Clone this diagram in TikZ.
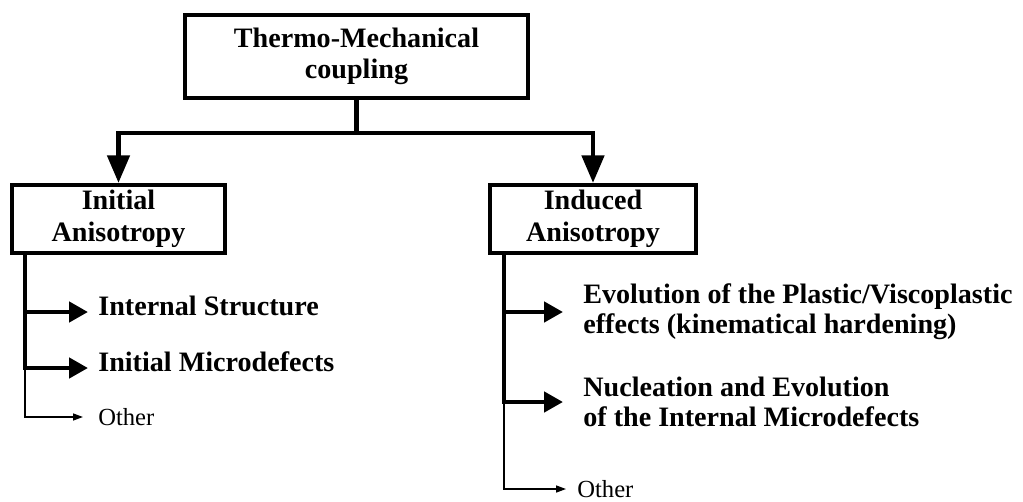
\documentclass[tikz,border=0pt]{standalone}
\usepackage{fontspec}
\setmainfont{Liberation Serif}
\usetikzlibrary{arrows.meta}

\tikzset{
  box/.style={draw, line width=2.4pt, align=center, inner sep=0pt, font=\fontsize{16}{18}\selectfont\bfseries},
  item/.style={anchor=west, align=left, inner ysep=0pt, font=\fontsize{16}{17}\selectfont\bfseries},
  other/.style={anchor=west, inner ysep=0pt, font=\fontsize{14}{16}\selectfont},
  trunk/.style={line width=2.6pt},
  twig/.style={line width=0.8pt},
  downtip/.style={{Triangle[length=0.55cm,width=0.44cm]}-{Triangle[length=0.55cm,width=0.44cm]}},
  bigtip/.style={-{Triangle[length=0.38cm,width=0.4cm]}},
  smalltip/.style={-{Triangle[length=0.2cm,width=0.14cm]}},
}

\begin{document}
\begin{tikzpicture}[x=0.02cm, y=-0.02cm]
\useasboundingbox (0,0) rectangle (1023,501);
\node[box, minimum width=6.86cm, minimum height=1.66cm] (title) at (356.5,56.5) {Thermo-Mechanical\\coupling};
\node[box, minimum width=4.26cm, minimum height=1.36cm] (ini) at (118.5,219) {Initial\\Anisotropy};
\node[box, minimum width=4.12cm, minimum height=1.36cm] (ind) at (593,219) {Induced\\Anisotropy};
\coordinate (bar) at (0,133);
\coordinate (spL) at ([xshift=0.3cm]ini.south west);
\coordinate (spR) at ([xshift=0.32cm]ind.south west);

\node[item, inner xsep=0.2cm, text height=0.45em, text depth=0pt] (m1) at (88,312) {Internal Structure};
\node[item, inner xsep=0.2cm, text height=0.45em, text depth=0pt] (m2) at (88,368) {Initial Microdefects};
\node[other, inner xsep=0.3cm] (o1) at (83,417) {Other};
\node[item, inner xsep=0.4cm] (n1) at (563,312) {Evolution of the Plastic/Viscoplastic\\effects (kinematical hardening)};
\node[item, inner xsep=0.4cm] (n2) at (563,402) {Nucleation and Evolution\\of the Internal Microdefects};
\node[other, inner xsep=0.22cm] (o2) at (566,489) {Other};

\draw[trunk] (title.south) -- (title.south |- bar);
\draw[trunk, downtip] (ini.north) -- (ini.north |- bar) -- (ind.north |- bar) -- (ind.north);

\draw[trunk, bigtip] (spL) |- (m2.west);
\draw[trunk, bigtip] (spL |- m1.west) -- (m1.west);
\draw[twig, smalltip] (spL |- m2.west) |- (o1.west);

\draw[trunk, bigtip] (spR) |- (n2.west);
\draw[trunk, bigtip] (spR |- n1.west) -- (n1.west);
\draw[twig, smalltip] (spR |- n2.west) |- (o2.west);
\end{tikzpicture}
\end{document}
